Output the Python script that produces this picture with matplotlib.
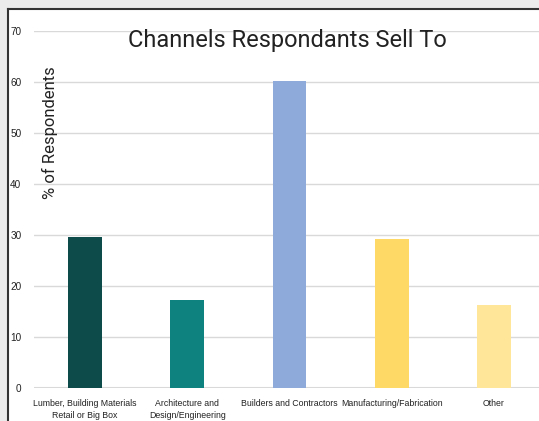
import matplotlib
matplotlib.use("Agg")
import matplotlib.pyplot as plt
from matplotlib.patches import Rectangle

categories = ["Lumber, Building Materials\nRetail or Big Box",
              "Architecture and\nDesign/Engineering",
              "Builders and Contractors",
              "Manufacturing/Fabrication",
              "Other"]
values = [29.7, 17.3, 60.1, 29.3, 16.2]
colors = ["#0d4a4a", "#0e827e", "#8eaadb", "#ffd966", "#ffe699"]
yticks = [0, 10, 20, 30, 40, 50, 60, 70]
title = "Channels Respondants Sell To"
ylabel = "% of Respondents"

W, H = 539, 421
fig = plt.figure(figsize=(W / 100, H / 100), dpi=100, facecolor="white")

# screenshot frame: gray margin top/left with dark border line
fig.patches.append(Rectangle((0, 1 - 8.5 / H), 1, 8.5 / H, transform=fig.transFigure,
                             facecolor="#ebebeb", edgecolor="none", zorder=0))
fig.patches.append(Rectangle((0, 0), 7 / W, 1, transform=fig.transFigure,
                             facecolor="#ebebeb", edgecolor="none", zorder=0))
fig.add_artist(plt.Line2D([7.5 / W, 7.5 / W], [0, 1 - 8.5 / H], transform=fig.transFigure,
                          color="#333333", lw=1.5))
fig.add_artist(plt.Line2D([7.5 / W, 1], [1 - 8.5 / H, 1 - 8.5 / H], transform=fig.transFigure,
                          color="#333333", lw=1.5))

left, right = 34 / W, 1.0
bottom, top = 1 - 388 / H, 1 - 31 / H
ax = fig.add_axes([left, bottom, right - left, top - bottom])
ax.set_facecolor("none")
x = list(range(len(categories)))
ax.bar(x, values, width=0.33, color=colors, zorder=3)
ax.set_xlim(-0.5, 4.44)
ax.set_ylim(0, 70)
ax.set_yticks(yticks)
ax.set_yticklabels([str(t) for t in yticks], fontsize=7.2, color="#222222",
                   family="Liberation Sans")
ax.set_xticks(x)
ax.set_xticklabels(categories, fontsize=6.3, color="#222222", linespacing=1.45,
                   family="Liberation Sans")
ax.tick_params(axis="both", length=0)
ax.tick_params(axis="y", pad=9)
ax.tick_params(axis="x", pad=8)
ax.grid(axis="y", color="#d9d9d9", lw=1, zorder=0)
for s in ax.spines.values():
    s.set_visible(False)
ax.axhline(0, color="#d9d9d9", lw=1.5, zorder=2)

fig.text(287 / W, 1 - 41 / H, title, ha="center", va="center", fontsize=17,
         family="Roboto", color="#222222")
fig.text(50 / W, 1 - 133 / H, ylabel, ha="center", va="center", rotation=90,
         fontsize=12, family="Roboto", color="#222222")

fig.savefig("out.png", dpi=100, facecolor=fig.get_facecolor())
